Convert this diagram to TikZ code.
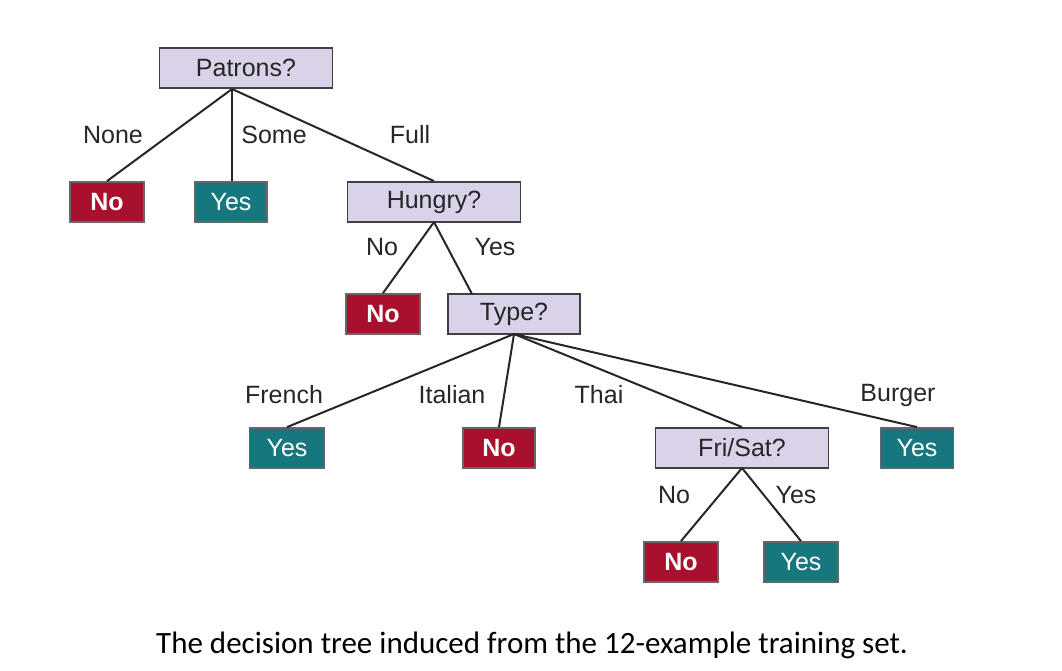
\documentclass[tikz,border=0pt]{standalone}
\usepackage{fontspec}
\setmainfont{Liberation Sans}
\newfontfamily\capfont{Carlito}
\definecolor{lav}{HTML}{D9D2E9}
\definecolor{nored}{HTML}{A8102E}
\definecolor{yteal}{HTML}{16777E}
\begin{document}
\begin{tikzpicture}[x=1pt,y=-1pt,
  q/.style={draw=black!75,line width=1.8pt,fill=lav,minimum height=40pt,inner sep=0pt,font=\fontsize{25}{28}\selectfont,text=black!85},
  nob/.style={draw=black!60,line width=1.8pt,fill=nored,minimum height=40pt,inner sep=0pt,minimum width=74pt,font=\fontsize{25}{28}\selectfont\bfseries,text=white},
  yb/.style={draw=black!60,line width=1.8pt,fill=yteal,minimum height=40pt,inner sep=0pt,minimum width=72pt,font=\fontsize{25}{28}\selectfont,text=white},
  lab/.style={font=\fontsize{25}{28}\selectfont,text=black!85},
  e/.style={line width=2pt,black!85}]
\useasboundingbox (0,0) rectangle (1062,670);
\node[q,minimum width=173pt] (pat) at (246,68) {Patrons?};
\node[nob] (n1) at (107,202) {No};
\node[yb] (y1) at (231,202) {Yes};
\node[q,minimum width=173pt] (hun) at (434,202) {Hungry?};
\node[nob] (n2) at (383,314) {No};
\node[q,minimum width=132pt] (typ) at (514,314) {Type?};
\node[yb,minimum width=75pt] (y2) at (287,448) {Yes};
\node[nob,minimum width=72pt] (n3) at (499,448) {No};
\node[q,minimum width=173pt] (fri) at (742,448) {Fri/Sat?};
\node[yb,minimum width=73pt] (y3) at (917,448) {Yes};
\node[nob] (n4) at (681,562) {No};
\node[yb,minimum width=74pt] (y4) at (801,562) {Yes};
\coordinate (pb) at (232,89);
\coordinate (hb) at (434,222);
\coordinate (tb) at (514,334);
\coordinate (fb) at (742,468);
\draw[e] (pb) -- (n1.north);
\draw[e] (pb) -- (pb|-y1.north);
\draw[e] (pb) -- (hun.north);
\draw[e] (hb) -- (n2.north);
\draw[e] (hb) -- (472,294);
\draw[e] (tb) -- (y2.north);
\draw[e] (tb) -- (n3.north);
\draw[e] (tb) -- (fri.north);
\draw[e] (tb) -- (y3.north);
\draw[e] (fb) -- (n4.north);
\draw[e] (fb) -- (y4.north);
\node[lab] (l1) at (113,135) {None};
\node[lab] (l2) at (274,135) {Some};
\node[lab] (l3) at (410,135) {Full};
\node[lab] (l4) at (382,247) {No};
\node[lab] (l5) at (495,247) {Yes};
\node[lab] (l6) at (284,395) {French};
\node[lab] (l7) at (452,395) {Italian};
\node[lab] (l8) at (599,395) {Thai};
\node[lab] (l9) at (898,395) {Burger};
\node[lab] (l10) at (674,495) {No};
\node[lab] (l11) at (796,495) {Yes};
\node[font=\capfont\fontsize{31}{36}\selectfont] (cap) at (532,645) {The decision tree induced from the 12-example training set.};
\end{tikzpicture}
\end{document}
